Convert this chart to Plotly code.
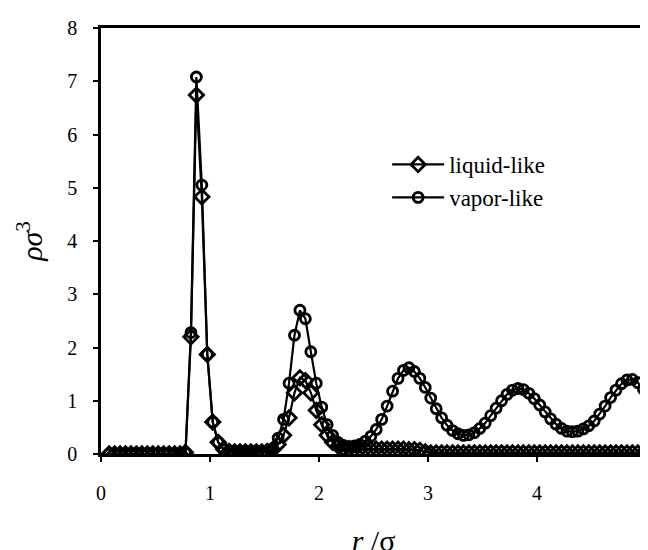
import plotly.graph_objects as go

r_sigma = [round(0.075 + 0.05 * k, 3) for k in range(99)]

liquid_like = (
    [0.0] * 14 + [0.03] +
    [2.20, 6.74, 4.83, 1.87, 0.60, 0.22, 0.09, 0.05] +
    [0.04, 0.04, 0.04, 0.04, 0.04, 0.04, 0.05] +
    [0.08, 0.18, 0.35, 0.68, 1.15, 1.43, 1.38, 1.15, 0.82, 0.55, 0.35, 0.22, 0.15, 0.11] +
    [0.10, 0.09, 0.09, 0.09, 0.09, 0.09, 0.09, 0.09, 0.09, 0.09, 0.09, 0.08, 0.08, 0.07, 0.04] +
    [0.02] * 40
)

vapor_like = (
    [0.0] * 14 + [0.02] +
    [2.28, 7.08, 5.05, 1.87, 0.60, 0.22, 0.08, 0.03] +
    [0.02, 0.02, 0.02, 0.02, 0.02, 0.03, 0.05] +
    [0.10, 0.30, 0.65, 1.33, 2.23, 2.70, 2.54, 1.92, 1.33, 0.88, 0.55, 0.35, 0.22, 0.16] +
    [0.14, 0.15, 0.18, 0.24, 0.33, 0.46, 0.65, 0.90, 1.18, 1.42, 1.57, 1.62, 1.55, 1.42, 1.25] +
    [1.05, 0.85, 0.68, 0.54, 0.44, 0.38, 0.35, 0.36, 0.40, 0.48, 0.58, 0.72, 0.86, 1.00,
     1.12, 1.20, 1.23, 1.21, 1.14, 1.04, 0.92, 0.79, 0.66, 0.56, 0.48, 0.43, 0.42, 0.43,
     0.47, 0.53, 0.62, 0.75, 0.90, 1.06, 1.20, 1.32, 1.39, 1.40, 1.34, 1.22]
)

x_ticks = [0, 1, 2, 3, 4, 5]
y_ticks = [0, 1, 2, 3, 4, 5, 6, 7, 8]

FONT = "Liberation Serif, Times New Roman, serif"

fig = go.Figure()
fig.add_trace(go.Scatter(
    x=r_sigma, y=liquid_like, name="liquid-like", mode="lines+markers",
    line=dict(color="black", width=2.2),
    marker=dict(symbol="diamond-open", size=11, color="black", line=dict(width=2.8)),
))
fig.add_trace(go.Scatter(
    x=r_sigma, y=vapor_like, name="vapor-like", mode="lines+markers",
    line=dict(color="black", width=2.2),
    marker=dict(symbol="circle-open", size=10, color="black", line=dict(width=2.8)),
))

fig.update_layout(
    width=648, height=550,
    margin=dict(l=93, r=5, t=20, b=88),
    paper_bgcolor="white", plot_bgcolor="white",
    font=dict(family=FONT, color="black", size=20),
    showlegend=True,
    legend=dict(
        x=0.525, y=0.73, xanchor="left", yanchor="top",
        bgcolor="rgba(0,0,0,0)", font=dict(family=FONT, size=23, color="black"),
        itemwidth=52, tracegroupgap=4,
    ),
    xaxis=dict(
        range=[0, 5], tickvals=x_ticks, ticktext=[str(v) for v in x_ticks],
        showgrid=False, zeroline=False, showline=True, linecolor="black", linewidth=2.5,
        mirror=True, ticks="outside", ticklen=5, tickcolor="black", tickwidth=1.5,
        ticklabelstandoff=14,
        tickfont=dict(family=FONT, size=20),
        title=dict(text="<i>r</i> /σ", font=dict(family=FONT, size=30), standoff=28),
    ),
    yaxis=dict(
        range=[0, 8], tickvals=y_ticks, ticktext=[str(v) for v in y_ticks],
        showgrid=False, zeroline=False, showline=True, linecolor="black", linewidth=2.5,
        mirror=True, ticks="outside", ticklen=5, tickcolor="black", tickwidth=1.5,
        ticklabelstandoff=12,
        tickfont=dict(family=FONT, size=20),
        title=dict(text="<i>ρσ</i><sup>3</sup>", font=dict(family=FONT, size=30), standoff=16),
    ),
)

fig.write_html("out.html")
